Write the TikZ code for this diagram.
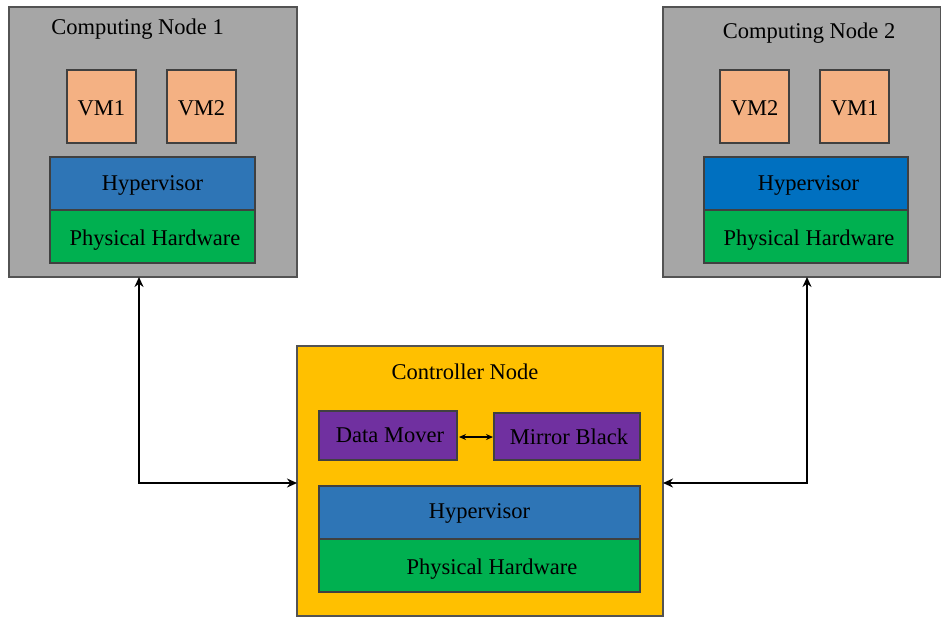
\documentclass[tikz,border=0pt]{standalone}
\usepackage{fontspec}
\setmainfont{Liberation Serif}
\usetikzlibrary{arrows.meta}
\definecolor{cgray}{HTML}{A6A6A6}
\definecolor{cvm}{HTML}{F4B183}
\definecolor{chyp}{HTML}{2E75B6}
\definecolor{chyptwo}{HTML}{0070C0}
\definecolor{cgreen}{HTML}{00B050}
\definecolor{cgold}{HTML}{FFC000}
\definecolor{cpurple}{HTML}{7030A0}
\definecolor{cedge}{HTML}{404040}
\newcommand{\shifted}[3]{\hspace*{#1}\raisebox{#2}[\height][\depth]{#3}}
\tikzset{
  box/.style={draw=cedge, line width=1.2pt, inner sep=0pt, outer sep=0pt, anchor=north west,
    font=\fontsize{22.5}{26}\selectfont},
  outer/.style={box, line width=1.5pt, draw=cedge!90},
  title/.style={inner sep=0pt, font=\fontsize{22.5}{26}\selectfont},
  conn/.style={line width=1.8pt, {Stealth[length=10pt,width=9pt]}-{Stealth[length=10pt,width=9pt]}},
  small/.style={line width=1.3pt, {Stealth[length=7pt,width=6pt]}-{Stealth[length=7pt,width=6pt]}}
}
\begin{document}
\begin{tikzpicture}[x=1pt,y=-1pt]
\useasboundingbox (0,0) rectangle (941,618);
% Computing Node 1
\node[outer, fill=cgray, minimum width=288pt, minimum height=270pt] (cn1) at (9,7) {};
\node[title] (t1) at (137.5,29) {Computing Node 1};
\node[box, fill=cvm, minimum width=69pt, minimum height=73pt] (vm11) at (67,70) {\shifted{0pt}{-2pt}{VM1}};
\node[box, fill=cvm, minimum width=69pt, minimum height=73pt] (vm12) at (167,70) {\shifted{0pt}{-2pt}{VM2}};
\node[box, fill=chyp, minimum width=205pt, minimum height=53pt] (hy1) at (50,157) {\shifted{0pt}{-2pt}{Hypervisor}};
\node[box, fill=cgreen, minimum width=205pt, minimum height=53pt] (ph1) at (50,210) {\shifted{5pt}{-4pt}{Physical Hardware}};
% Computing Node 2
\node[outer, fill=cgray, minimum width=278pt, minimum height=270pt] (cn2) at (663,7) {};
\node[title] (t2) at (809,33) {Computing Node 2};
\node[box, fill=cvm, minimum width=69pt, minimum height=73pt] (vm22) at (720,70) {\shifted{0pt}{-2pt}{VM2}};
\node[box, fill=cvm, minimum width=69pt, minimum height=73pt] (vm21) at (820,70) {\shifted{0pt}{-2pt}{VM1}};
\node[box, fill=chyptwo, minimum width=204pt, minimum height=53pt] (hy2) at (704,157) {\shifted{5pt}{-2pt}{Hypervisor}};
\node[box, fill=cgreen, minimum width=204pt, minimum height=53pt] (ph2) at (704,210) {\shifted{6pt}{-4pt}{Physical Hardware}};
% Controller
\node[outer, fill=cgold, minimum width=366pt, minimum height=270pt] (ctrl) at (297,346) {};
\node[title] (t3) at (465,372) {Controller Node};
\node[box, fill=cpurple, minimum width=138pt, minimum height=49pt] (dm) at (319,411) {\shifted{4pt}{0pt}{Data Mover}};
\node[box, fill=cpurple, minimum width=146pt, minimum height=47pt] (mb) at (494,413) {\shifted{4pt}{0pt}{Mirror Black}};
\node[box, fill=chyp, minimum width=321pt, minimum height=53pt] (hy3) at (319,486) {\shifted{0pt}{-1pt}{Hypervisor}};
\node[box, fill=cgreen, minimum width=321pt, minimum height=53pt] (ph3) at (319,539) {\shifted{25pt}{-4pt}{Physical Hardware}};
% connectors
\coordinate (lc) at (139,483);
\coordinate (rc) at (807,483);
\draw[conn] (cn1.south -| lc) -- (lc) -- (ctrl.west |- lc);
\draw[conn] (cn2.south -| rc) -- (rc) -- (ctrl.east |- rc);
\draw[small] ([xshift=2pt]dm.east |- 0,437) -- ([xshift=-1pt]mb.west |- 0,437);
\end{tikzpicture}
\end{document}
